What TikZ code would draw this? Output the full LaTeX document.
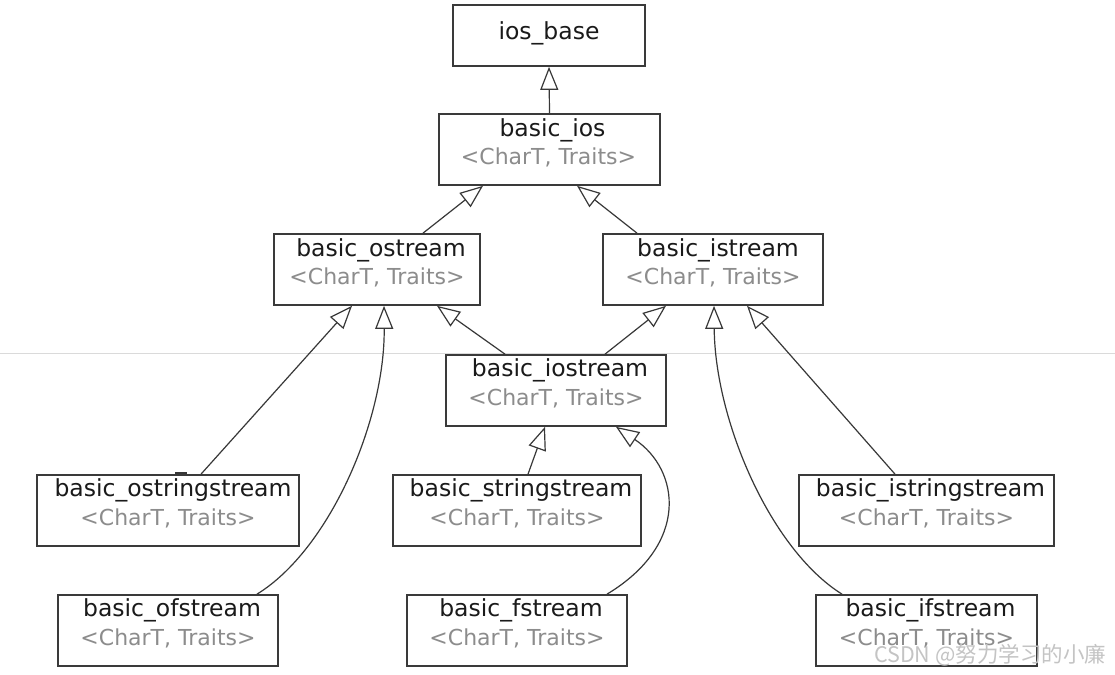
\documentclass[tikz,border=0pt]{standalone}
\usepackage{fontspec}
\setmainfont{DejaVu Sans}
\newfontfamily\cjk{Noto Sans CJK SC}
\usetikzlibrary{arrows.meta,calc}
\definecolor{boxline}{HTML}{3A3A3A}
\definecolor{conn}{HTML}{383838}
\definecolor{tmplgray}{HTML}{8C8C8C}
\definecolor{titleblack}{HTML}{1A1A1A}
\definecolor{sepline}{HTML}{DADADA}
\definecolor{wmark}{HTML}{C4C4C4}
\tikzset{
  classbox/.style={draw=boxline, fill=white, line width=1.7pt, rectangle, minimum height=71pt, inner sep=0pt},
  classtitle/.style={text=titleblack, font=\fontsize{23.5}{27}\selectfont, inner sep=0pt, anchor=center},
  classtmpl/.style={text=tmplgray, font=\fontsize{22}{26}\selectfont, inner sep=0pt, anchor=center},
  inherit/.style={draw=conn, line width=1.2pt, -{Triangle[open, length=23pt, width=18pt, line width=1.2pt]}}
}
\begin{document}
\begin{tikzpicture}[x=1pt, y=-1pt]
\useasboundingbox (0,0) rectangle (1115,674);
\fill[white] (0,0) rectangle (1115,674);
% thin separator line
\draw[sepline, line width=1pt] (0,353) -- (1115,353);

% boxes
\node[classbox, minimum width=192pt, minimum height=61pt] (iosbase) at (549,35.5) {};
\node[classtitle] (iosbase-t) at (549,33) {ios\_base};

\node[classbox, minimum width=221pt] (ios) at (549.5,149.5) {};
\node[classtitle] (ios-t) at ([xshift=3pt,yshift=-17pt]ios.north) {basic\_ios};
\node[classtmpl] (ios-g) at ([xshift=-1pt,yshift=-44pt]ios.north) {<CharT, Traits>};

\node[classbox, minimum width=206pt] (ostr) at (377,269.5) {};
\node[classtitle] (ostr-t) at ([xshift=4pt,yshift=-17pt]ostr.north) {basic\_ostream};
\node[classtmpl] (ostr-g) at ([yshift=-44pt]ostr.north) {<CharT, Traits>};

\node[classbox, minimum width=220pt] (istr) at (713,269.5) {};
\node[classtitle] (istr-t) at ([xshift=5pt,yshift=-17pt]istr.north) {basic\_istream};
\node[classtmpl] (istr-g) at ([yshift=-44pt]istr.north) {<CharT, Traits>};

\node[classbox, minimum width=220pt] (iostr) at (556,390.5) {};
\node[classtitle] (iostr-t) at ([xshift=4pt,yshift=-16pt]iostr.north) {basic\_iostream};
\node[classtmpl] (iostr-g) at ([yshift=-44pt]iostr.north) {<CharT, Traits>};

\node[classbox, minimum width=262pt] (ostrs) at (168,510.5) {};
\node[classtitle] (ostrs-t) at ([xshift=5pt,yshift=-16pt]ostrs.north) {basic\_ostringstream};
\node[classtmpl] (ostrs-g) at ([yshift=-44pt]ostrs.north) {<CharT, Traits>};

\node[classbox, minimum width=248pt] (strs) at (517,510.5) {};
\node[classtitle] (strs-t) at ([xshift=4pt,yshift=-16pt]strs.north) {basic\_stringstream};
\node[classtmpl] (strs-g) at ([yshift=-44pt]strs.north) {<CharT, Traits>};

\node[classbox, minimum width=255pt] (istrs) at (926.5,510.5) {};
\node[classtitle] (istrs-t) at ([xshift=4pt,yshift=-16pt]istrs.north) {basic\_istringstream};
\node[classtmpl] (istrs-g) at ([yshift=-44pt]istrs.north) {<CharT, Traits>};

\node[classbox, minimum width=220pt] (ofs) at (168,630.5) {};
\node[classtitle] (ofs-t) at ([xshift=4pt,yshift=-16pt]ofs.north) {basic\_ofstream};
\node[classtmpl] (ofs-g) at ([yshift=-44pt]ofs.north) {<CharT, Traits>};

\node[classbox, minimum width=220pt] (fs) at (517,630.5) {};
\node[classtitle] (fs-t) at ([xshift=4pt,yshift=-16pt]fs.north) {basic\_fstream};
\node[classtmpl] (fs-g) at ([yshift=-44pt]fs.north) {<CharT, Traits>};

\node[classbox, minimum width=221pt] (ifs) at (926.5,630.5) {};
\node[classtitle] (ifs-t) at ([xshift=4pt,yshift=-16pt]ifs.north) {basic\_ifstream};
\node[classtmpl] (ifs-g) at ([yshift=-44pt]ifs.north) {<CharT, Traits>};

% connectors
\draw[inherit] (ios.north) -- (iosbase.south);
\draw[inherit] ([xshift=46pt]ostr.north) -- ([xshift=-66.5pt]ios.south);
\draw[inherit] ([xshift=-76pt]istr.north) -- ([xshift=27.5pt]ios.south);
\draw[inherit] ([xshift=33pt]ostrs.north) -- ([xshift=-25pt]ostr.south);
\draw[inherit] ([xshift=89pt]ofs.north) .. controls +(73,-45) and +(1,114) .. ([xshift=7pt]ostr.south);
\draw[inherit] ([xshift=-51pt]iostr.north) -- ([xshift=60pt]ostr.south);
\draw[inherit] ([xshift=49pt]iostr.north) -- ([xshift=-47pt]istr.south);
\draw[inherit] ([xshift=11pt]strs.north) -- ([xshift=-11pt]iostr.south);
\draw[inherit] ([xshift=90pt]fs.north) .. controls +(83,-50) and +(64,43) .. ([xshift=60pt]iostr.south);
\draw[inherit] ([xshift=-31.5pt]istrs.north) -- ([xshift=34pt]istr.south);
\draw[inherit] ([xshift=-84.5pt]ifs.north) .. controls +(-72,-45) and +(1,114) .. ([xshift=1pt]istr.south);

% small mark above basic_ostringstream
\coordinate (markA) at (175,473);
\coordinate (markB) at (187,473);
\draw[conn, line width=1.6pt] (markA) -- (markB);

% watermark
\node[text=wmark, font=\cjk\fontsize{21.5}{25}\selectfont, anchor=west, inner sep=0pt] (wm) at (874,655) {CSDN @努力学习的小廉};
\end{tikzpicture}
\end{document}
